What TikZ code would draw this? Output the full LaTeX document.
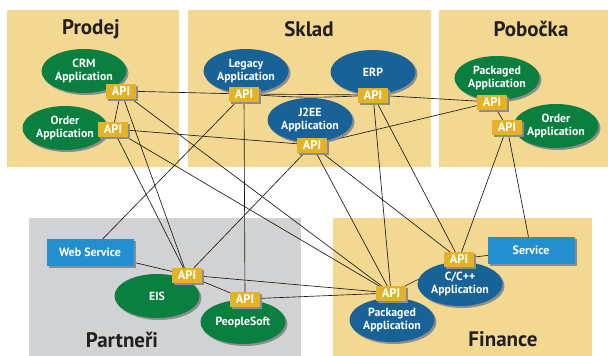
\documentclass[tikz,border=0pt]{standalone}
\usepackage{fontspec}
\setmainfont{PT Sans}
\usetikzlibrary{shapes.geometric,shadows}

\definecolor{sand}{RGB}{242,216,145}
\definecolor{partgray}{RGB}{209,210,212}
\definecolor{appgreen}{RGB}{11,127,64}
\definecolor{appblue}{RGB}{24,98,152}
\definecolor{svcblue}{RGB}{34,144,208}
\definecolor{apigold}{RGB}{228,178,40}
\definecolor{titlegray}{RGB}{35,31,32}

\pgfdeclarelayer{bg}
\pgfdeclarelayer{wires}
\pgfsetlayers{bg,wires,main}

\begin{document}
\begin{tikzpicture}[x=1pt,y=-1pt,
    shade/.style={drop shadow={shadow xshift=2pt,shadow yshift=-2pt,fill=black!45,opacity=1}},
    app/.style={ellipse,minimum width=85pt,minimum height=44pt,inner sep=0pt,align=center,
      text=white,font=\bfseries\fontsize{11.8}{13}\selectfont,shade},
    greenapp/.style={app,fill=appgreen},
    blueapp/.style={app,fill=appblue},
    svcbox/.style={rectangle,fill=svcblue,minimum width=87pt,minimum height=27pt,inner sep=0pt,
      text=white,font=\bfseries\fontsize{12}{14}\selectfont,shade},
    api/.style={rectangle,fill=apigold,minimum width=30pt,minimum height=15pt,inner sep=0pt,
      text=white,font=\bfseries\fontsize{12.5}{14}\selectfont,shade},
    region/.style={fill=#1,draw=none},
    title/.style={text=titlegray,font=\bfseries\fontsize{21}{24}\selectfont},
    wire/.style={draw=black!90,line width=0.65pt}]
  \useasboundingbox (0,0) rectangle (608,356);

  % areas
  \begin{pgfonlayer}{bg}
    \fill[region=sand] (7,10) rectangle (179,167);
    \fill[region=sand] (188,10) rectangle (431,167);
    \fill[region=sand] (439,10) rectangle (608,167);
    \fill[region=partgray] (29,218) rectangle (301,356);
    \fill[region=sand] (333,218) rectangle (592,356);
  \end{pgfonlayer}
  \node[title] (tprodej) at (91,29) {Prodej};
  \node[title] (tsklad) at (309,29) {Sklad};
  \node[title] (tpobocka) at (531,29) {Pobočka};
  \node[title] (tpartneri) at (122,340) {Partneři};
  \node[title] (tfinance) at (503,339) {Finance};

  % applications
  \node[greenapp] (crm) at (84,71) {CRM\\Application};
  \node[greenapp] (ordp) at (65,128) {Order\\Application};
  \node[blueapp] (leg) at (246,71) {Legacy\\Application};
  \node[blueapp] (erp) at (373,72) {ERP};
  \node[blueapp] (jee) at (310,120) {J2EE\\Application};
  \node[greenapp] (pbpk) at (497,78) {Packaged\\Application};
  \node[greenapp] (pbord) at (556,126) {Order\\Application};
  \node[greenapp] (eis) at (157,296) {EIS};
  \node[greenapp] (psoft) at (243,322) {PeopleSoft};
  \node[blueapp] (cpp) at (460,284) {C/C++\\Application};
  \node[blueapp] (fpk) at (392,320) {Packaged\\Application};
  \node[svcbox] (ws) at (90,252) {Web Service};
  \node[svcbox] (svc) at (531,250) {Service};

  % API boxes
  \node[api] (acrm) at (121,91) {API};
  \node[api] (aordp) at (113,129) {API};
  \node[api] (aleg) at (244,94) {API};
  \node[api] (aerp) at (373,95) {API};
  \node[api] (ajee) at (312,145) {API};
  \node[api] (apbpk) at (492,102) {API};
  \node[api] (apbord) at (507,127) {API};
  \node[api] (aeis) at (187,275) {API};
  \node[api] (apsoft) at (245,299) {API};
  \node[api] (acpp) at (459,259) {API};
  \node[api] (afpk) at (391,293) {API};

  % connections
  \begin{pgfonlayer}{wires}
    \foreach \a/\b in {acrm/aleg,acrm/aordp,aordp/ajee,ajee/apbpk,aerp/apbpk,aleg/aerp,
        apbpk/apbord,acrm/aeis,aordp/aeis,acrm/afpk,aordp/afpk,aleg/ws,aleg/apsoft,
        ajee/aeis,ajee/afpk,ajee/acpp,aerp/afpk,aerp/acpp,apbord/acpp,apbord/svc,
        ws/aeis,aeis/apsoft,aeis/afpk,apsoft/afpk,afpk/acpp,svc/acpp}
      \draw[wire] (\a.center) -- (\b.center);
    \draw[wire] (aleg.center) to[bend right=4] (aerp.center);
  \end{pgfonlayer}
\end{tikzpicture}
\end{document}
